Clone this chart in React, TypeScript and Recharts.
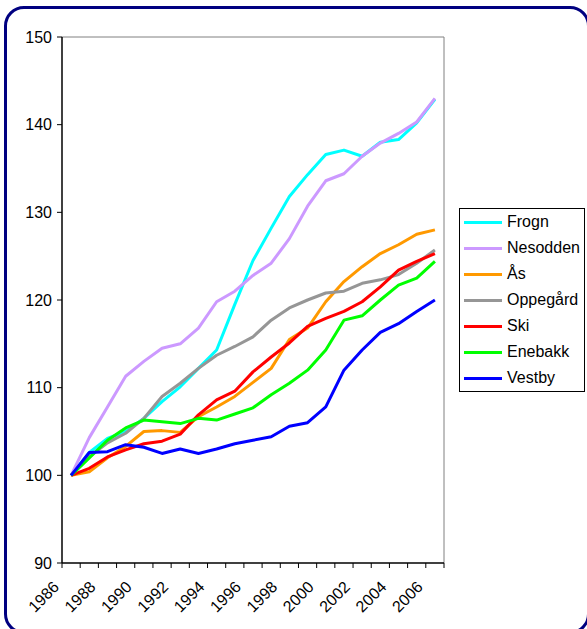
import React from "react";
import { LineChart, Line, XAxis, YAxis, ReferenceLine } from "recharts";

// Indeks 1986 = 100
const years = [
  1986, 1987, 1988, 1989, 1990, 1991, 1992, 1993, 1994, 1995, 1996,
  1997, 1998, 1999, 2000, 2001, 2002, 2003, 2004, 2005, 2006
];

const frogn = [100, 102.6, 104.2, 105, 106.5, 108.4, 110.1, 112.2, 114.3, 119.5, 124.5, 128.2, 131.8, 134.3, 136.6, 137.1, 136.4, 138.0, 138.3, 140.2, 142.9];
const nesodden = [100, 104.3, 107.8, 111.3, 113, 114.5, 115, 116.8, 119.8, 121, 122.8, 124.2, 127, 130.7, 133.6, 134.4, 136.4, 137.9, 139, 140.3, 143];
const aas = [100, 100.4, 102, 103.3, 105, 105.1, 104.9, 106.7, 107.8, 109, 110.6, 112.2, 115.5, 116.8, 119.8, 122.1, 123.8, 125.3, 126.3, 127.5, 128];
const oppegaard = [100, 102.1, 103.7, 104.8, 106.5, 109, 110.5, 112.2, 113.7, 114.7, 115.8, 117.7, 119.1, 120, 120.8, 121, 121.9, 122.3, 122.9, 124.2, 125.7];
const ski = [100, 100.8, 102.1, 102.9, 103.6, 103.9, 104.7, 106.9, 108.6, 109.6, 111.8, 113.5, 115.1, 117, 117.9, 118.7, 119.8, 121.5, 123.4, 124.4, 125.3];
const enebakk = [100, 102, 104, 105.4, 106.3, 106.1, 105.9, 106.5, 106.3, 107, 107.7, 109.2, 110.5, 112, 114.3, 117.7, 118.2, 120, 121.7, 122.5, 124.4];
const vestby = [100, 102.6, 102.7, 103.5, 103.2, 102.5, 103, 102.5, 103, 103.6, 104, 104.4, 105.6, 106, 107.8, 112, 114.3, 116.3, 117.3, 118.7, 120];

const yTicks = [90, 100, 110, 120, 130, 140, 150];
const labelYears = [1986, 1988, 1990, 1992, 1994, 1996, 1998, 2000, 2002, 2004, 2006];

const series = [
  { key: "Frogn", values: frogn, color: "#00FFFF" },
  { key: "Nesodden", values: nesodden, color: "#CC99FF" },
  { key: "Ås", values: aas, color: "#FF9900" },
  { key: "Oppegård", values: oppegaard, color: "#969696" },
  { key: "Ski", values: ski, color: "#FF0000" },
  { key: "Enebakk", values: enebakk, color: "#00FF00" },
  { key: "Vestby", values: vestby, color: "#0000FF" }
];

const data = years.map((year, i) => {
  const row: Record<string, number> = { year };
  series.forEach((s) => (row[s.key] = s.values[i]));
  return row;
});

// tick marks sit between the categories
const boundaryTicks = years.map((y) => y - 0.5).concat(years[years.length - 1] + 0.5);
const domainX: [number, number] = [years[0] - 0.5, years[years.length - 1] + 0.5];

const FONT = "'Liberation Sans', Arial, sans-serif";

const YearTick = (props: any) => {
  const { x, y, payload } = props;
  const ax = x - 11;
  const ay = y + 11;
  return (
    <text
      x={ax}
      y={ay}
      transform={`rotate(-45, ${ax}, ${ay})`}
      textAnchor="end"
      fontSize={16}
      fontFamily={FONT}
      fill="#000"
    >
      {payload.value}
    </text>
  );
};

export default function App() {
  return (
    <div
      style={{
        position: "fixed",
        left: 0,
        top: 0,
        width: 587,
        height: 629,
        overflow: "hidden",
        background: "#fff",
        fontFamily: FONT
      }}
    >
      {/* ramme */}
      <div
        style={{
          position: "absolute",
          left: 4,
          top: 6,
          width: 586,
          height: 628,
          border: "3px solid #000080",
          borderRadius: 20,
          boxSizing: "border-box"
        }}
      />
      <div style={{ position: "absolute", left: 0, top: 0 }}>
        <LineChart
          width={587}
          height={629}
          data={data}
          margin={{ top: 37, right: 143, left: 0, bottom: 0 }}
        >
          <XAxis
            xAxisId="a"
            dataKey="year"
            type="number"
            domain={domainX}
            ticks={boundaryTicks}
            interval={0}
            tick={() => <g />}
            tickSize={5}
            height={6}
            stroke="#000"
            axisLine={{ stroke: "#000", strokeWidth: 1.5 }}
            tickLine={{ stroke: "#000" }}
          />
          <XAxis
            xAxisId="b"
            dataKey="year"
            type="number"
            domain={domainX}
            ticks={labelYears}
            interval={0}
            axisLine={false}
            tickLine={false}
            tick={<YearTick />}
            height={60}
          />
          <YAxis
            domain={[90, 150]}
            ticks={yTicks}
            interval={0}
            width={62}
            tickSize={5}
            tickMargin={5}
            axisLine={{ stroke: "#000", strokeWidth: 1.5 }}
            tickLine={{ stroke: "#000" }}
            tick={{ fontSize: 16, fill: "#000", fontFamily: FONT }}
          />
          <ReferenceLine xAxisId="a" y={150} stroke="#808080" strokeWidth={1} />
          <ReferenceLine xAxisId="a" x={domainX[1]} stroke="#808080" strokeWidth={1} />
          {series.map((s) => (
            <Line
              key={s.key}
              xAxisId="a"
              type="linear"
              dataKey={s.key}
              stroke={s.color}
              strokeWidth={3}
              strokeLinejoin="round"
              dot={false}
              activeDot={false}
              isAnimationActive={false}
            />
          ))}
        </LineChart>
      </div>
      {/* forklaring */}
      <div
        style={{
          position: "absolute",
          left: 459,
          top: 208,
          width: 126,
          height: 184,
          border: "1px solid #000",
          boxSizing: "border-box",
          background: "#fff"
        }}
      >
        {series.map((s, i) => (
          <div
            key={s.key}
            style={{
              position: "absolute",
              left: 0,
              top: 3 + i * 26,
              height: 20,
              display: "flex",
              alignItems: "center",
              fontSize: 16,
              whiteSpace: "nowrap"
            }}
          >
            <span
              style={{
                display: "inline-block",
                marginLeft: 4,
                width: 38,
                height: 3,
                background: s.color
              }}
            />
            <span style={{ marginLeft: 5, color: "#000" }}>{s.key}</span>
          </div>
        ))}
      </div>
    </div>
  );
}
